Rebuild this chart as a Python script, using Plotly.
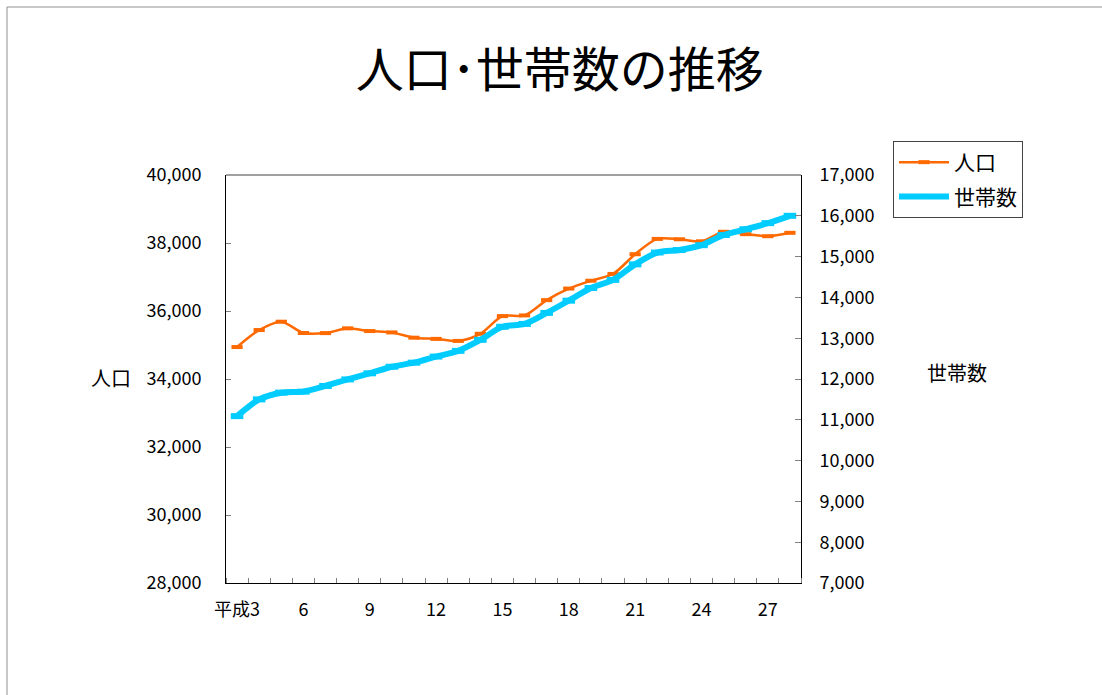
import plotly.graph_objects as go

# 年（平成）
years = list(range(3, 29))
# 人口（人）
population = [34940, 35440, 35685, 35353, 35350, 35490, 35410, 35370, 35215, 35180,
              35120, 35330, 35850, 35870, 36320, 36660, 36890, 37090, 37670, 38120,
              38110, 38050, 38330, 38260, 38200, 38300]
# 世帯数（世帯）
households = [11090, 11500, 11665, 11690, 11830, 11990, 12140, 12300, 12400, 12550,
              12690, 12960, 13280, 13350, 13620, 13920, 14230, 14430, 14810, 15100,
              15160, 15280, 15530, 15670, 15820, 16000]

x_tick_vals = [3, 6, 9, 12, 15, 18, 21, 24, 27]
x_tick_text = ["平成3", "6", "9", "12", "15", "18", "21", "24", "27"]
left_ticks = [28000, 30000, 32000, 34000, 36000, 38000, 40000]
right_ticks = [7000, 8000, 9000, 10000, 11000, 12000, 13000, 14000, 15000, 16000, 17000]

FONT = "Noto Sans CJK JP"
ORANGE = "#FF6A00"
CYAN = "#00CCFF"

fig = go.Figure()

fig.add_trace(go.Scatter(
    x=years, y=population, name="人口", yaxis="y",
    mode="lines+markers",
    line=dict(color=ORANGE, width=2.5, shape="spline", smoothing=0.8),
    marker=dict(symbol="line-ew", size=8, color=ORANGE,
                line=dict(color=ORANGE, width=4)),
    legendgroup="a",
))
fig.add_trace(go.Scatter(
    x=years, y=households, name="世帯数", yaxis="y2",
    mode="lines+markers",
    line=dict(color=CYAN, width=6, shape="spline", smoothing=0.8),
    marker=dict(symbol="line-ew", size=9, color=CYAN,
                line=dict(color=CYAN, width=6)),
    legendgroup="b",
))

fig.update_layout(
    width=1102, height=695,
    margin=dict(l=226, r=301, t=175, b=112),
    paper_bgcolor="white", plot_bgcolor="white",
    font=dict(family=FONT, size=18, color="black"),
    title=dict(text="人口･世帯数の推移", x=0.508, xref="container", xanchor="center",
               y=1 - 70 / 695, yref="container", yanchor="middle",
               font=dict(family=FONT, size=48, color="black")),
    xaxis=dict(
        range=[2.5, 28.5], tickmode="array", tickvals=x_tick_vals, ticktext=x_tick_text,
        ticks="", showgrid=False, zeroline=False,
        showline=True, linecolor="black", linewidth=1,
        tickfont=dict(size=18), ticklabelstandoff=10,
        minor=dict(tick0=2.5, dtick=1, ticks="inside", ticklen=5,
                   tickcolor="#808080", showgrid=False),
    ),
    yaxis=dict(
        range=[28000, 40000], tickmode="array", tickvals=left_ticks,
        tickformat=",d", ticks="inside", ticklen=5, tickcolor="#808080",
        showgrid=False, zeroline=False,
        showline=True, linecolor="black", linewidth=1,
        tickfont=dict(size=18), ticklabelstandoff=20,
    ),
    yaxis2=dict(
        range=[7000, 17000], tickmode="array", tickvals=right_ticks,
        tickformat=",d", ticks="inside", ticklen=6, tickcolor="#808080",
        overlaying="y", side="right",
        showgrid=False, zeroline=False,
        showline=True, linecolor="black", linewidth=1,
        tickfont=dict(size=18), ticklabelstandoff=14,
    ),
    legend=dict(
        x=(893 - 226) / 575, y=(583 - 141) / 408, xanchor="left", yanchor="top",
        bordercolor="#444444", borderwidth=1, bgcolor="white",
        font=dict(family=FONT, size=21, color="black"),
        traceorder="grouped", tracegroupgap=4, itemwidth=50,
    ),
    showlegend=True,
)

# 軸タイトル（横書き）
fig.add_annotation(text="人口", x=(111 - 226) / 575, y=(583 - 377) / 408,
                   xref="paper", yref="paper", xanchor="center", yanchor="middle",
                   showarrow=False, font=dict(family=FONT, size=20, color="black"))
fig.add_annotation(text="世帯数", x=(957 - 226) / 575, y=(583 - 372) / 408,
                   xref="paper", yref="paper", xanchor="center", yanchor="middle",
                   showarrow=False, font=dict(family=FONT, size=20, color="black"))

# プロット領域上端の枠線
fig.add_shape(type="line", xref="paper", yref="paper", x0=0, x1=1, y0=1, y1=1,
              line=dict(color="#808080", width=1.5))

# グラフ全体の外枠
fig.add_shape(type="rect", xref="paper", yref="paper",
              x0=(7 - 226) / 575, x1=(1110 - 226) / 575,
              y0=(583 - 705) / 408, y1=(583 - 7) / 408,
              line=dict(color="#909090", width=1), layer="below")

fig.write_html("out.html")
